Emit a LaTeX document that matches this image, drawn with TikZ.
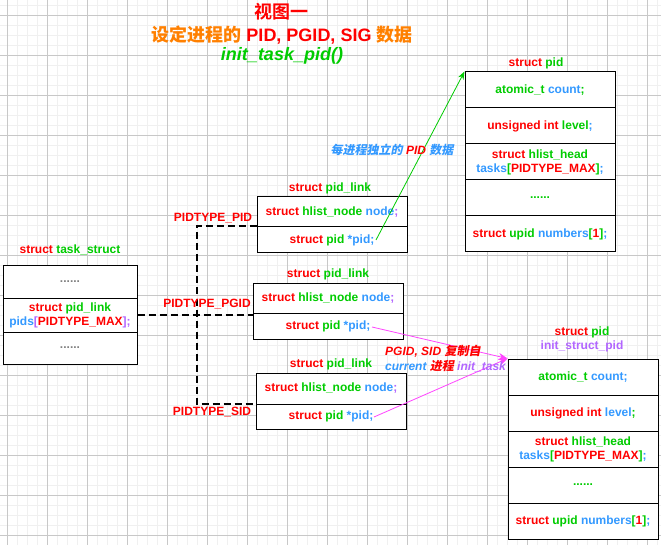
\documentclass[tikz,border=0pt]{standalone}
\usepackage{fontspec}
\setmainfont{Liberation Sans}
\newfontfamily\cjkb{Noto Sans CJK SC Bold}
\newfontfamily\cjkbi{Noto Sans CJK SC Bold}[FakeSlant=0.2]
\usetikzlibrary{arrows.meta}
\definecolor{cr}{HTML}{FF0000}
\definecolor{cg}{HTML}{00CC00}
\definecolor{cb}{HTML}{3399FF}
\definecolor{cp}{HTML}{B266FF}
\definecolor{co}{HTML}{FF8000}
\definecolor{cgr}{HTML}{808080}
\definecolor{cm}{HTML}{FF44FF}
\definecolor{gmaj}{HTML}{C8C8C8}
\definecolor{gmin}{HTML}{F0F0F0}
\newcommand\Rd[1]{\textcolor{cr}{#1}}
\newcommand\Gn[1]{\textcolor{cg}{#1}}
\newcommand\Bl[1]{\textcolor{cb}{#1}}
\newcommand\Pu[1]{\textcolor{cp}{#1}}
\newcommand\Or[1]{\textcolor{co}{#1}}
\begin{document}
\begin{tikzpicture}[x=1pt,y=-1pt,
  font=\bfseries\fontsize{12}{14}\selectfont,
  rowbox/.style={draw=black, line width=1pt, inner sep=0pt, align=center, fill=white},
  lbl/.style={inner sep=0pt, align=center},
  dsh/.style={draw=black, line width=2pt, dash pattern=on 7pt off 4pt},
  garrow/.style={draw=cg, line width=0.8pt, -{Stealth[length=8pt,width=6pt]}},
  marrow/.style={draw=cm, line width=0.8pt, -{Stealth[length=9pt,width=7pt]}}]
\useasboundingbox (0,0) rectangle (661,545);
\fill[white] (0,0) rectangle (661,545);
% grid
\foreach \g in {-3,7,...,661} \draw[gmin, line width=0.8pt] (\g,0) -- (\g,545);
\foreach \g in {5,15,...,545} \draw[gmin, line width=0.8pt] (0,\g) -- (661,\g);
\foreach \g in {7,47,...,661} \draw[gmaj, line width=0.8pt] (\g,0) -- (\g,545);
\foreach \g in {15,55,...,545} \draw[gmaj, line width=0.8pt] (0,\g) -- (661,\g);

% title
\node[lbl, font=\fontsize{18}{20}\selectfont] (t1) at (281,12) {\textcolor{cr}{\cjkb 视图一}};
\node[lbl, font=\bfseries\fontsize{18}{20}\selectfont] (t2) at (282,35) {\Or{\cjkb 设定进程的} \Rd{PID, PGID, SIG} \Or{\cjkb 数据}};
\node[lbl, font=\bfseries\itshape\fontsize{18}{20}\selectfont] (t3) at (282,56) {\Gn{init\_task\_pid()}};

% top struct pid
\node[lbl] (plab) at (536,63) {\Rd{struct} \Gn{pid}};
\node[rowbox, minimum width=150pt, minimum height=36pt] (p1) at (540,90) {\Gn{atomic\_t} \Bl{count}\Gn{;}};
\node[rowbox, minimum width=150pt, minimum height=36pt] (p2) at (540,126) {\Rd{unsigned int} \Gn{level}\Bl{;}};
\node[rowbox, minimum width=150pt, minimum height=36pt] (p3) at (540,162) {\Rd{struct} \Gn{hlist\_head}\\\Bl{tasks}\Gn{[}\Rd{PIDTYPE\_MAX}\Gn{]}\Bl{;}};
\node[rowbox, minimum width=150pt, minimum height=36pt] (p4) at (540,198) {\Gn{......}};
\node[rowbox, minimum width=150pt, minimum height=36pt] (p5) at (540,234) {\Rd{struct} \Gn{upid} \Bl{numbers}\Gn{[}\Rd{1}\Gn{]}\Bl{;}};

% bottom struct pid (init_struct_pid)
\node[lbl] (qlab) at (582,339) {\Rd{struct} \Gn{pid}\\\Pu{init\_struct\_pid}};
\node[rowbox, minimum width=150pt, minimum height=36pt] (q1) at (583,377) {\Gn{atomic\_t} \Bl{count;}};
\node[rowbox, minimum width=150pt, minimum height=36pt] (q2) at (583,413) {\Rd{unsigned int} \Bl{level}\Gn{;}};
\node[rowbox, minimum width=150pt, minimum height=36pt] (q3) at (583,449) {\Rd{struct} \Gn{hlist\_head}\\\Bl{tasks}\Gn{[}\Rd{PIDTYPE\_MAX}\Gn{]}\Bl{;}};
\node[rowbox, minimum width=150pt, minimum height=36pt] (q4) at (583,485) {\Gn{......}};
\node[rowbox, minimum width=150pt, minimum height=36pt] (q5) at (583,521) {\Rd{struct} \Gn{upid} \Bl{numbers}\Gn{[}\Rd{1}\Gn{]}\Bl{;}};

% task_struct
\node[lbl] (tslab) at (70,250) {\Rd{struct} \Gn{task\_struct}};
\node[rowbox, minimum width=134pt, minimum height=33pt] (ts1) at (70,282) {\textcolor{cgr}{......}};
\node[rowbox, minimum width=134pt, minimum height=34pt] (ts2) at (70,315) {\Rd{struct} \Gn{pid\_link}\\\Bl{pids}\Pu{[}\Rd{PIDTYPE\_MAX}\Pu{];}};
\node[rowbox, minimum width=134pt, minimum height=32pt] (ts3) at (70,348) {\textcolor{cgr}{......}};

% pid_link 1
\node[lbl] (l1lab) at (330,188) {\Rd{struct} \Gn{pid\_link}};
\node[rowbox, minimum width=150pt, minimum height=30pt] (l1a) at (332,212) {\Rd{struct} \Gn{hlist\_node} \Bl{node}\Pu{;}};
\node[rowbox, minimum width=150pt, minimum height=26pt] (l1b) at (332,240) {\Rd{struct} \Gn{pid} \Bl{*pid;}};
% pid_link 2
\node[lbl] (l2lab) at (328,274) {\Rd{struct} \Gn{pid\_link}};
\node[rowbox, minimum width=150pt, minimum height=29pt] (l2a) at (328,298.5) {\Rd{struct} \Gn{hlist\_node} \Bl{node}\Pu{;}};
\node[rowbox, minimum width=150pt, minimum height=26pt] (l2b) at (328,326) {\Rd{struct} \Gn{pid} \Bl{*pid;}};
% pid_link 3
\node[lbl] (l3lab) at (331,364) {\Rd{struct} \Gn{pid\_link}};
\node[rowbox, minimum width=150pt, minimum height=31pt] (l3a) at (331,388.5) {\Rd{struct} \Gn{hlist\_node} \Bl{node}\Pu{;}};
\node[rowbox, minimum width=150pt, minimum height=25pt] (l3b) at (331,416.5) {\Rd{struct} \Gn{pid} \Bl{*pid;}};

% dashed links
\draw[dsh] (ts2.east) -- (ts2.east -| l2b.west);
\draw[dsh] (l1b.north west) -- ++(-60,0) |- (l3b.north west);

% PIDTYPE labels
\node[lbl] (tp1) at (213,218) {\Rd{PIDTYPE\_PID}};
\node[lbl] (tp2) at (207,304) {\Rd{PIDTYPE\_PGID}};
\node[lbl] (tp3) at (212,412) {\Rd{PIDTYPE\_SID}};

% green arrow
\coordinate (g1) at (376,240);
\draw[garrow] (g1) -- (p1.north west);
\node[lbl, font=\bfseries\itshape\fontsize{12}{14}\selectfont] (glab) at (392,150) {\Bl{\cjkbi 每进程独立的} \Rd{PID} \Bl{\cjkbi 数据}};

% magenta arrows
\coordinate (m2) at (372,327);
\coordinate (m3) at (374,417);
\draw[marrow] (m2) -- (q1.north west);
\draw[marrow] (m3) -- (q1.north west);
\node[lbl, anchor=west, align=left, font=\bfseries\itshape\fontsize{12}{15}\selectfont] (mlab) at (385,359) {\Rd{PGID, SID {\cjkbi 复制自}}\\\Bl{current} \Rd{\cjkbi 进程} \Pu{init\_task}};
\end{tikzpicture}
\end{document}
